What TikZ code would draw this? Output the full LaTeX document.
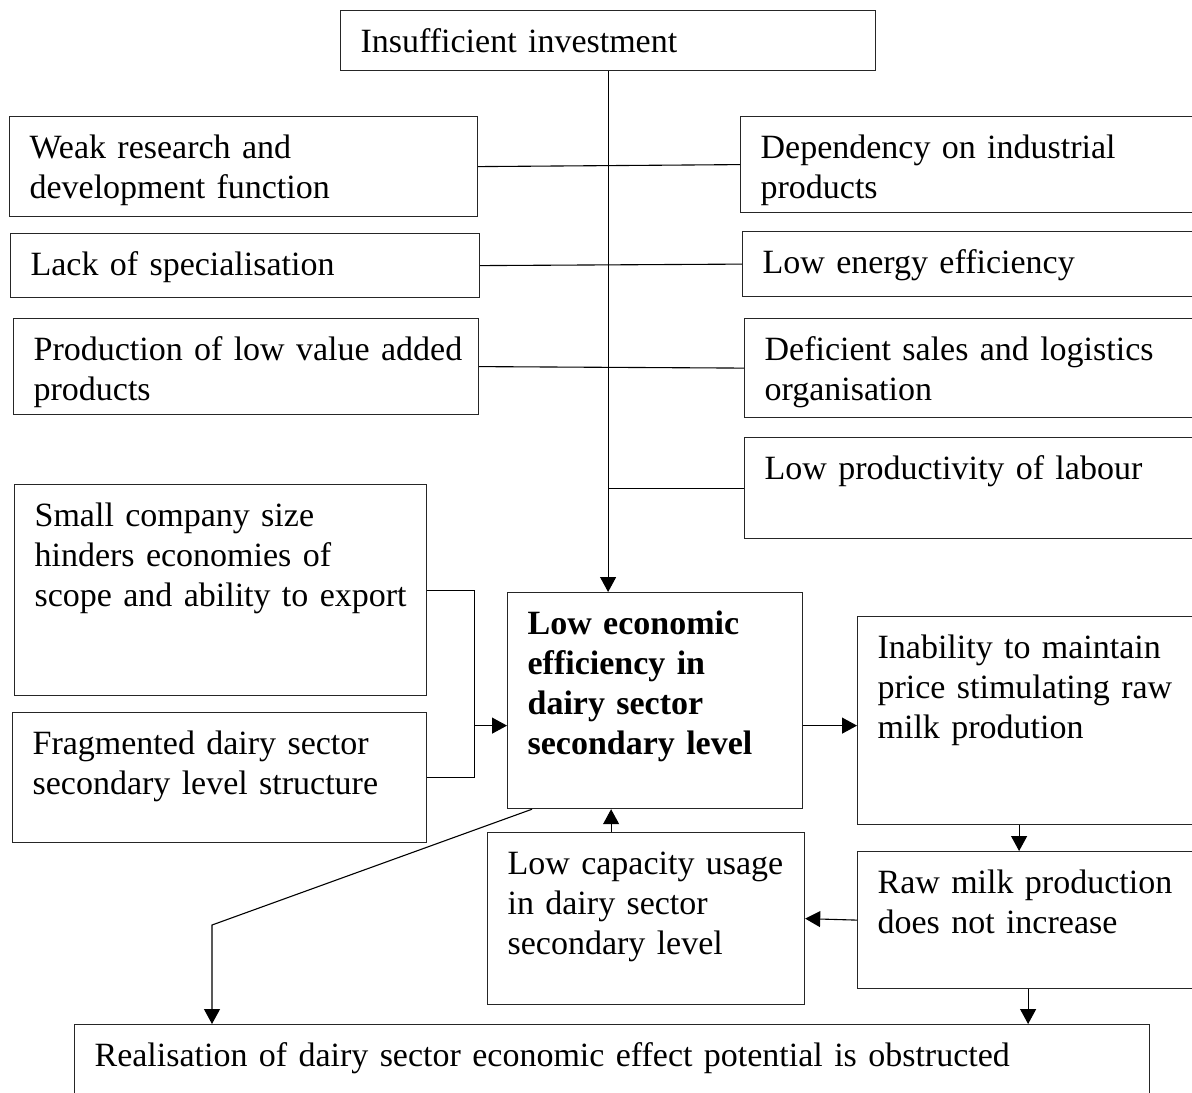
\documentclass[tikz,border=0pt]{standalone}
\usepackage{fontspec}
\setmainfont{Liberation Serif}
\usetikzlibrary{arrows.meta}

\tikzset{
  cause/.style={draw=black!85, line width=0.6pt, anchor=north west,
    inner xsep=10pt, inner ysep=0pt, text height=21pt,
    font=\fontsize{17}{20}\selectfont,
    execute at begin node={\rightskip=0pt plus 1fil minus 30pt\relax\hyphenpenalty=10000\relax}},
  link/.style={line width=0.55pt},
  push/.style={link, -{Triangle[width=8pt,length=7.5pt]}},
}

\begin{document}
\begin{tikzpicture}[x=0.5pt, y=-0.5pt]
  \useasboundingbox (0,0) rectangle (1192,1092);
  \clip (0,0) rectangle (1192,1092);

  % top row
  \node[cause, text width=247.5pt, text depth=9pt] (inv) at (340,10) {Insufficient investment};

  % left column of causes
  \node[cause, text width=214pt, text depth=29pt] (weak) at (9,116) {Weak research and\\development function};
  \node[cause, text width=214.5pt, text depth=11pt] (lack) at (10,233) {Lack of specialisation};
  \node[cause, text width=212.5pt, text depth=27pt] (prod) at (13,318) {Production of low value added\\products};

  % right column of causes
  \node[cause, text width=215pt, text depth=27pt] (dep) at (740,116) {Dependency on industrial\\products};
  \node[cause, text width=214pt, text depth=11.5pt] (energy) at (742,231) {Low energy efficiency};
  \node[cause, text width=213pt, text depth=28.5pt] (defi) at (744,318) {Deficient sales and logistics\\organisation};
  \node[cause, text width=213pt, text depth=29.5pt] (labour) at (744,437) {Low productivity of labour};

  % structure
  \node[cause, text width=186pt, text depth=84.5pt] (small) at (14,484) {Small company size\\hinders economies of\\scope and ability to export};
  \node[cause, text width=187pt, text depth=44pt] (frag) at (12,712) {Fragmented dairy sector\\secondary level structure};

  % core problem
  \node[cause, text width=127.5pt, text depth=87pt, font=\fontsize{17}{20}\selectfont\bfseries] (core) at (507,592) {Low economic\\efficiency in\\dairy sector\\secondary level};

  % loop
  \node[cause, text width=156.5pt, text depth=83pt] (inab) at (857,616) {Inability to maintain\\price stimulating raw\\milk prodution};
  \node[cause, text width=156.5pt, text depth=47.5pt] (raw) at (857,851) {Raw milk production\\does not increase};
  \node[cause, text width=138.5pt, text depth=65pt] (cap) at (487,832) {Low capacity usage\\in dairy sector\\secondary level};

  % result
  \node[cause, text width=517.5pt, text depth=29pt] (real) at (74,1024) {Realisation of dairy sector economic effect potential is obstructed};

  % connectors
  \draw[push] (inv.south) -- (inv.south |- core.north);
  \draw[link] (weak.east) -- (dep.west);
  \draw[link] (lack.east) -- (energy.west);
  \draw[link] (prod.east) -- (defi.west);
  \draw[link] (inv.south |- labour.west) -- (labour.west);

  \coordinate (into) at ([yshift=-12.5pt]core.west);
  \coordinate (outof) at ([yshift=-12.5pt]core.east);
  \draw[link] (small.east) -- ++(47,0) |- (frag.east);
  \draw[push] (into -| frag.east) ++(47,0) -- (into);
  \draw[push] (outof) -- (outof -| inab.west);

  \coordinate (down) at ([xshift=-7.5pt]inab.south);
  \draw[push] (down) -- (down |- raw.north);
  \draw[push] (raw.west) -- (cap.east);
  \coordinate (up) at ([xshift=-17.5pt]cap.north);
  \draw[push] (up) -- (up |- core.south);

  \coordinate (bend) at (212,925);
  \draw[push] ([xshift=12.5pt]core.south west) -- (bend) -- (bend |- real.north);
  \coordinate (last) at ([xshift=-3pt]raw.south);
  \draw[push] (last) -- (last |- real.north);
\end{tikzpicture}
\end{document}
